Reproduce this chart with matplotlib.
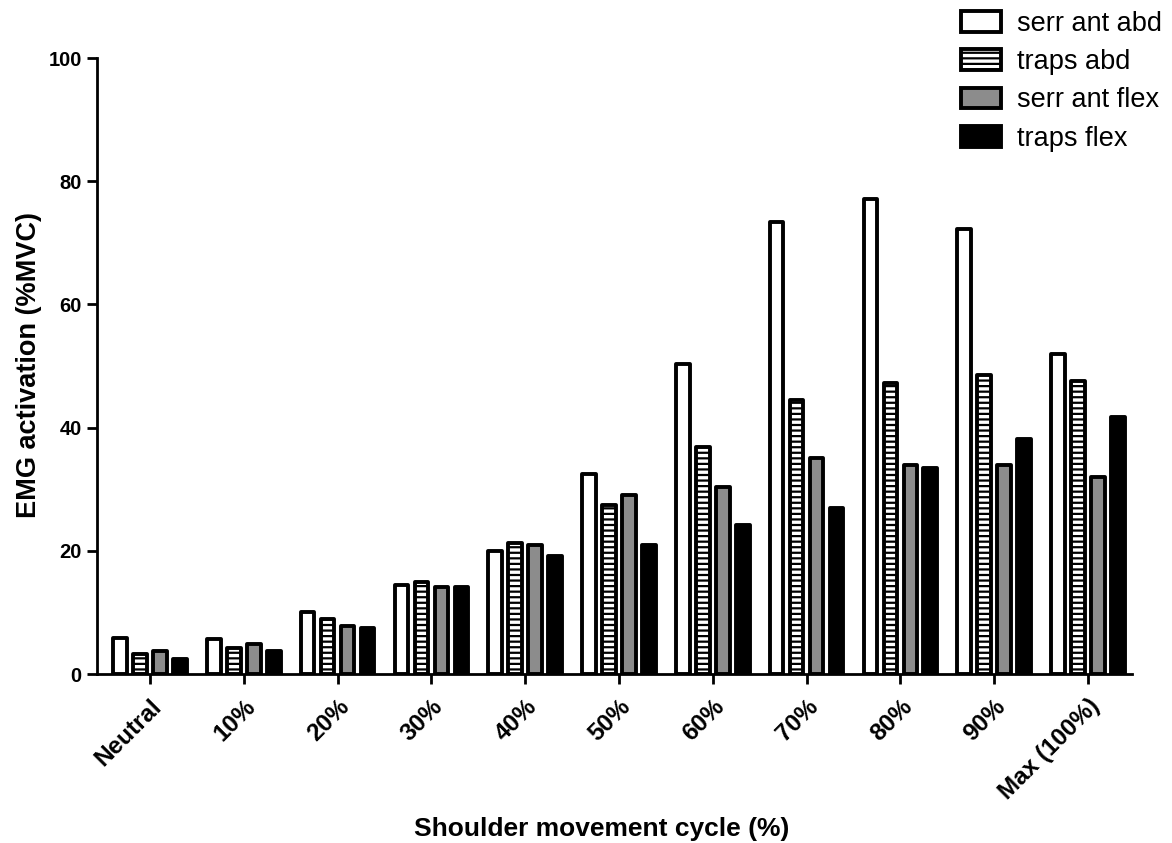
import numpy as np
import matplotlib
matplotlib.use("Agg")
import matplotlib.pyplot as plt

categories = ["Neutral", "10%", "20%", "30%", "40%", "50%", "60%", "70%", "80%", "90%", "Max (100%)"]
series_names = ["serr ant abd", "traps abd", "serr ant flex", "traps flex"]
serr_ant_abd = [5.8, 5.7, 10.0, 14.4, 20.0, 32.4, 50.3, 73.3, 77.1, 72.2, 52.0]
traps_abd = [3.2, 4.3, 8.9, 14.9, 21.2, 27.5, 36.8, 44.5, 47.3, 48.6, 47.6]
serr_ant_flex = [3.7, 4.8, 7.8, 14.1, 21.0, 29.0, 30.4, 35.0, 34.0, 34.0, 32.0]
traps_flex = [2.4, 3.8, 7.4, 14.1, 19.2, 21.0, 24.2, 26.9, 33.4, 38.2, 41.8]

plt.rcParams['font.family'] = ['Liberation Sans', 'DejaVu Sans']
plt.rcParams['hatch.linewidth'] = 1.6

W, H = 1172, 843
fig = plt.figure(figsize=(W / 100, H / 100), dpi=100)
ax = fig.add_axes([97 / W, 1 - 674 / H, (1132 - 97) / W, (674 - 58) / H])

x = np.arange(len(categories))
pitch = 0.213
width = 0.145
styles = [
    dict(facecolor='white', hatch=None),
    dict(facecolor='white', hatch='---'),
    dict(facecolor='#8c8c8c', hatch=None),
    dict(facecolor='black', hatch=None),
]
data = [serr_ant_abd, traps_abd, serr_ant_flex, traps_flex]
handles = []
for i, (vals, st, name) in enumerate(zip(data, styles, series_names)):
    bars = ax.bar(x + (i - 1.5) * pitch, vals, width=width, facecolor=st['facecolor'],
                  edgecolor='black', linewidth=2.8, hatch=st['hatch'], label=name, zorder=2)
    for b in bars:
        b.set_joinstyle('round')
    handles.append(bars)

ax.set_xlim(-0.565, 10.47)
ax.set_ylim(0, 100)
ax.set_yticks([0, 20, 40, 60, 80, 100])
ax.set_xticks(x)
ax.set_xticklabels(categories, rotation=45, ha='right', rotation_mode='anchor',
                   fontsize=17.5, fontweight='bold')
for lbl in ax.get_yticklabels():
    lbl.set_fontsize(14.5)
    lbl.set_fontweight('bold')
ax.spines['top'].set_visible(False)
ax.spines['right'].set_visible(False)
for s in ['left', 'bottom']:
    ax.spines[s].set_linewidth(2.0)
ax.tick_params(axis='both', direction='out', length=7, width=2.0, pad=4)
ax.tick_params(axis='x', pad=8)

ax.set_ylabel("EMG activation (%MVC)", fontsize=19.5, fontweight='bold')
ax.yaxis.set_label_coords((42 - 97) / 1035, (674 - 365) / 616)
ax.set_xlabel("Shoulder movement cycle (%)", fontsize=19, fontweight='bold')
ax.xaxis.set_label_coords((602 - 97) / 1035, (674 - 817) / 616)

leg = fig.legend(handles=handles, labels=series_names, loc='upper left',
                 bbox_to_anchor=(961 / W, 1 - 11 / H), frameon=False, fontsize=19.5,
                 borderpad=0, borderaxespad=0,
                 handlelength=1.48, handleheight=0.8, labelspacing=0.45, handletextpad=0.6)

fig.savefig("out.png", dpi=100)
